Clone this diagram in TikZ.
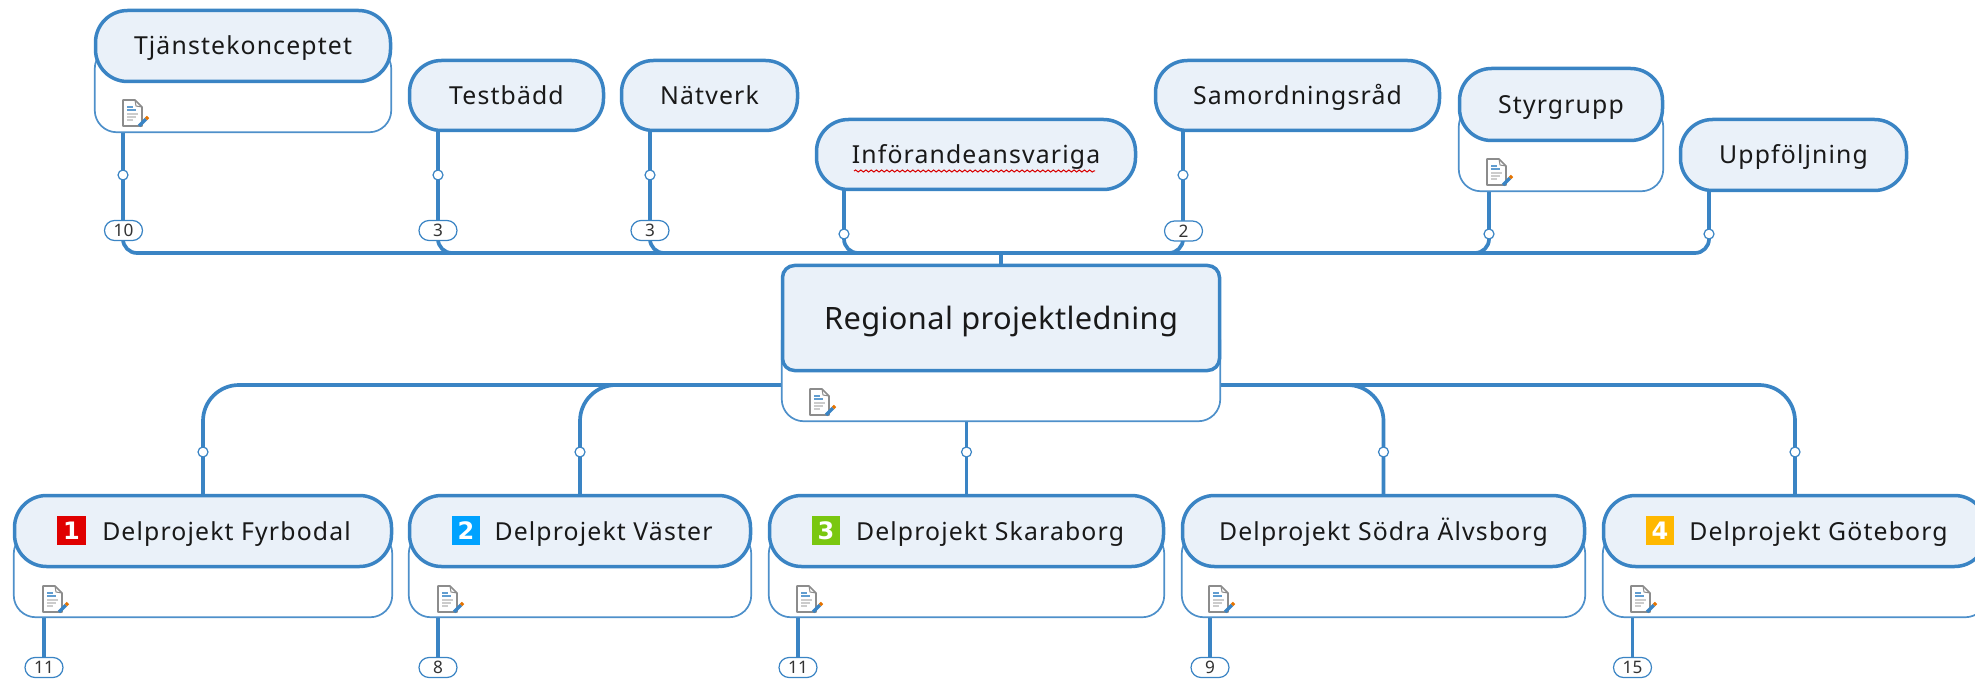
\documentclass[tikz,border=0pt]{standalone}
\usepackage{fontspec}
\setmainfont{Noto Sans}
\newfontfamily\flagfont{DejaVu Sans}
\usetikzlibrary{calc,decorations.pathmorphing}
\pgfdeclarelayer{bg}
\pgfsetlayers{bg,main}
\definecolor{mmblue}{RGB}{58,132,196}
\definecolor{mmfill}{RGB}{234,241,249}
\definecolor{mmtext}{RGB}{25,25,25}
\tikzset{
  hdr/.style={draw=mmblue,line width=1.75pt,fill=mmfill,inner sep=0pt,outer sep=0pt,rounded corners=16pt,
    text=mmtext,align=center,font=\fontsize{12.4}{14}\selectfont\addfontfeature{LetterSpace=4.6},text height=9pt,text depth=0pt},
  hdrbig/.style={hdr,rounded corners=6pt,font=\fontsize{15.4}{18}\selectfont\addfontfeature{LetterSpace=1.2},text height=11pt},
  bodybox/.style={draw=mmblue!90,line width=.85pt,fill=white,inner sep=0pt,outer sep=0pt,rounded corners=11pt},
  conn/.style={draw=mmblue,line width=1.85pt},
  dot/.style={circle,draw=mmblue,line width=.6pt,fill=white,minimum size=5pt,inner sep=0pt,outer sep=0pt},
  pill/.style={draw=mmblue,line width=.6pt,fill=white,rounded corners=5pt,minimum width=19pt,minimum height=10pt,
    inner sep=0pt,outer sep=0pt,text=black!80,font=\fontsize{8.6}{10}\selectfont,text height=6.2pt,text depth=0pt},
  flag/.style={minimum size=14.3pt,inner sep=0pt,outer sep=0pt,text=white,font=\flagfont\fontsize{12}{12}\bfseries\selectfont,text height=8.7pt,text depth=0pt},
  noteicon/.pic={
    \draw[black!45,line width=.8pt,fill=white,line join=round] (1,1) -- (13,1) -- (20,8) -- (20,27) -- (1,27) -- cycle;
    \draw[black!45,line width=.5pt] (13,1) -- (14,7) -- (20,8);
    \draw[mmblue!80,line width=.7pt] (5,8) -- (11,8) (5,11) -- (14,11);
    \draw[black!20,line width=.7pt] (5,15) -- (16,15) (5,18) -- (14,18) (5,21) -- (11,21);
    \draw[mmblue,line width=1.7pt] (17,27) -- (24,20);
    \draw[orange!90!black,line width=1.7pt] (24,20) -- (26,18);
  }
}
\newcommand{\boxhead}[7][hdr]{%
  \node[#1,minimum width={(#5-#3-3)*0.5pt},minimum height={(#6-#4-3)*0.5pt}] (#2) at ({(#3+#5)/2},{(#4+#6)/2}) {#7};}
\newcommand{\boxbody}[5]{%
  \node[bodybox,minimum width={(#4-#2-1.5)*0.5pt},minimum height={(#5-#3-1.5)*0.5pt}] (#1) at ({(#2+#4)/2},{(#3+#5)/2}) {};}
\begin{document}
\begin{tikzpicture}[x=0.5pt,y=-0.5pt]
\useasboundingbox (0,0) rectangle (1975,679);
\clip (0,0) rectangle (1975,679);
% note bodies
\boxbody{tjb}{94}{46}{392}{133}
\boxbody{stb}{1458}{104}{1664}{192}
\boxbody{rpb}{781}{318}{1221}{422}
\boxbody{fyb}{13}{531}{393}{618}
\boxbody{vab}{408}{531}{752}{618}
\boxbody{skb}{768}{531}{1165}{618}
\boxbody{sob}{1181}{531}{1586}{618}
\boxbody{gob}{1602}{531}{1988}{618}
% headers
\boxhead{tj}{94}{9}{392}{83}{Tjänstekonceptet}
\boxhead{te}{408}{59}{605}{132}{Testbädd}
\boxhead{na}{620}{59}{799}{132}{Nätverk}
\boxhead{in}{815}{118}{1137}{191}{Införandeansvariga}
\boxhead{sa}{1154}{59}{1441}{132}{Samordningsråd}
\boxhead{st}{1458}{67}{1664}{142}{Styrgrupp}
\boxhead{up}{1679}{118}{1908}{192}{Uppföljning}
\boxhead[hdrbig]{rp}{781}{264}{1221}{372}{Regional projektledning}
\boxhead{fy}{13}{494}{393}{568}{\hspace*{23.5pt}Delprojekt Fyrbodal}
\boxhead{va}{408}{494}{752}{568}{\hspace*{23.5pt}Delprojekt Väster}
\boxhead{sk}{768}{494}{1165}{568}{\hspace*{23.5pt}Delprojekt Skaraborg}
\boxhead{so}{1181}{494}{1586}{568}{Delprojekt Södra Älvsborg}
\boxhead{go}{1602}{494}{1988}{568}{\hspace*{23.5pt}Delprojekt Göteborg}
% flags
\node[flag,fill={rgb,255:red,224;green,0;blue,0}] (f1) at (71.5,530.5) {1};
\node[flag,fill={rgb,255:red,0;green,162;blue,255}] (f2) at (466,530.5) {2};
\node[flag,fill={rgb,255:red,122;green,199;blue,16}] (f3) at (826,530.5) {3};
\node[flag,fill={rgb,255:red,255;green,184;blue,0}] (f4) at (1660,530.5) {4};
% icons
\pic at (122,99) {noteicon};
\pic at (1486,158) {noteicon};
\pic at (809,388) {noteicon};
\pic at (42,585) {noteicon};
\pic at (437,585) {noteicon};
\pic at (796,585) {noteicon};
\pic at (1208,585) {noteicon};
\pic at (1630,585) {noteicon};
% spell-check underline
\draw[red!85!black,line width=.5pt,decorate,decoration={snake,amplitude=.5pt,segment length=2.6pt}] (854,171) -- (1095,171);
% dots and count pills
\node[dot] (d1) at (123,175) {};
\node[dot] (d2) at (438,175) {};
\node[dot] (d3) at (650,175) {};
\node[dot] (d4) at (844,234) {};
\node[dot] (d5) at (1183,175) {};
\node[dot] (d6) at (1489,234) {};
\node[dot] (d7) at (1709,234) {};
\node[pill] (p1) at (123.5,230.5) {10};
\node[pill] (p2) at (438,230.5) {3};
\node[pill] (p3) at (650,230.5) {3};
\node[pill] (p5) at (1183.5,231) {2};
\coordinate (bus) at (rp.north |- 0,253);
\node[dot] (d8) at (fy.north |- 0,452) {};
\node[dot] (d9) at (va.north |- 0,452) {};
\node[dot] (d10) at (sk.north |- 0,452) {};
\node[dot] (d11) at (so.north |- 0,452) {};
\node[dot] (d12) at (go.north |- 0,452) {};
\node[pill] (p8) at (44,667.5) {11};
\node[pill] (p9) at (438,667.5) {8};
\node[pill] (p10) at (798,667.5) {11};
\node[pill] (p11) at (1210,667.5) {9};
\node[pill] (p12) at (1632.5,667.5) {15};
\coordinate (rl) at (rpb.west |- 0,385);
\coordinate (rr) at (rpb.east |- 0,385);
% connectors
\begin{pgfonlayer}{bg}
\draw[conn] (bus) -- (rp.north);
\foreach \dt/\src in {d1/tjb,d2/te,d3/na,d4/in,d5/sa,d6/stb,d7/up}
  \draw[conn,rounded corners=7pt] (\dt |- \src.south) -- (\dt |- bus) -- (bus);
\draw[conn,rounded corners=18pt] (rl) -| (fy.north);
\draw[conn,rounded corners=18pt] (rl) -| (va.north);
\draw[conn] (sk.north |- rpb.south) -- (sk.north);
\draw[conn,rounded corners=18pt] (rr) -| (so.north);
\draw[conn,rounded corners=18pt] (rr) -| (go.north);
\foreach \pl/\src in {p8/fyb,p9/vab,p10/skb,p11/sob,p12/gob}
  \draw[conn] (\pl |- \src.south) -- (\pl);
\end{pgfonlayer}
\end{tikzpicture}
\end{document}
